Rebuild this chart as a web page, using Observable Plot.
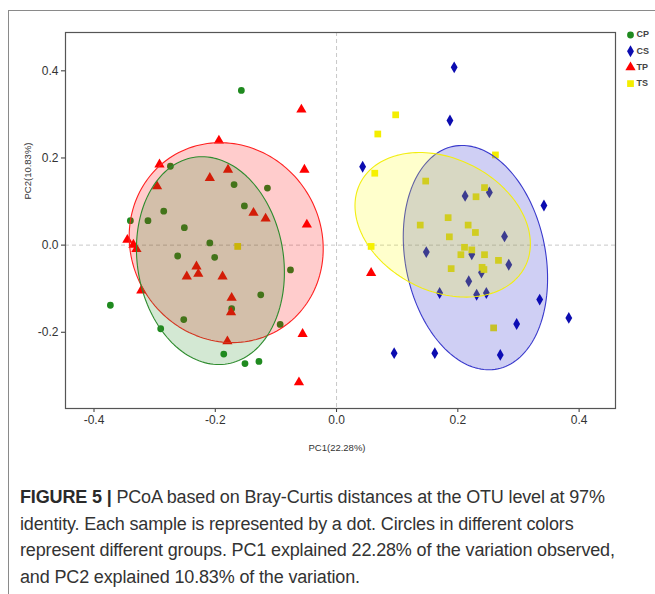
<!DOCTYPE html>
<html>
<head>
<meta charset="utf-8">
<script src="https://cdn.jsdelivr.net/npm/d3@7"></script>
<script src="https://cdn.jsdelivr.net/npm/@observablehq/plot@0.6"></script>
<style>
  html, body { margin: 0; padding: 0; background: #fff; width: 655px; height: 594px; overflow: hidden; }
  #frame { position: absolute; left: 8px; top: 10px; width: 700px; height: 700px;
           border-left: 1.5px solid #8a8a8a; border-top: 1.5px solid #8a8a8a; }
  #chart { position: absolute; left: 0; top: 0; }
  #caption { position: absolute; left: 20px; top: 484px; font-family: "Liberation Sans", Arial, sans-serif;
             font-size: 18px; letter-spacing: -0.15px; line-height: 26.5px; color: #333; white-space: nowrap; }
  #caption b { font-weight: bold; color: #2a2a2a; }
</style>
</head>
<body>
<div id="frame"></div>
<div id="chart"></div>
<div id="caption">
  <div><b>FIGURE 5 |</b> PCoA based on Bray-Curtis distances at the OTU level at 97%</div>
  <div>identity. Each sample is represented by a dot. Circles in different colors</div>
  <div>represent different groups. PC1 explained 22.28% of the variation observed,</div>
  <div>and PC2 explained 10.83% of the variation.</div>
</div>
<script>
// ---- data ----
const groups = ["CP", "CS", "TP", "TS"];

const cpX = [-0.157, -0.274, -0.169, -0.114, -0.152, -0.285, -0.340, -0.311, -0.251, -0.209, -0.262, -0.201, -0.076, -0.373, -0.125, -0.173, -0.252, -0.093, -0.290, -0.186, -0.151, -0.128];
const cpY = [0.355, 0.181, 0.139, 0.131, 0.090, 0.078, 0.056, 0.056, 0.040, 0.005, -0.025, -0.028, -0.057, -0.138, -0.114, -0.146, -0.171, -0.182, -0.192, -0.250, -0.272, -0.267];

const csX = [0.194, 0.187, 0.043, 0.212, 0.252, 0.342, 0.277, 0.148, 0.223, 0.284, 0.239, 0.218, 0.170, 0.231, 0.247, 0.335, 0.383, 0.297, 0.095, 0.162, 0.270];
const csY = [0.408, 0.286, 0.180, 0.113, 0.121, 0.091, 0.020, -0.016, -0.021, -0.045, -0.063, -0.083, -0.110, -0.114, -0.110, -0.125, -0.167, -0.181, -0.248, -0.248, -0.252];

const tpX = [-0.058, -0.194, -0.292, -0.179, -0.053, -0.209, -0.296, -0.137, -0.117, -0.049, -0.345, -0.335, -0.330, -0.231, -0.228, -0.247, -0.188, -0.322, -0.173, -0.174, -0.056, -0.180, -0.062, 0.057];
const tpY = [0.311, 0.240, 0.185, 0.173, 0.173, 0.154, 0.135, 0.074, 0.061, 0.047, 0.012, 0.001, -0.009, -0.049, -0.066, -0.072, -0.072, -0.104, -0.121, -0.154, -0.204, -0.221, -0.315, -0.064];

const tsX = [0.0975, 0.068, 0.262, 0.063, 0.147, 0.244, 0.230, 0.184, 0.138, 0.217, 0.229, 0.186, 0.057, 0.211, 0.223, 0.205, 0.244, 0.267, 0.189, 0.240, 0.243, 0.259, -0.163];
const tsY = [0.299, 0.255, 0.207, 0.165, 0.147, 0.132, 0.111, 0.063, 0.046, 0.046, 0.029, 0.019, -0.003, -0.005, -0.011, -0.022, -0.022, -0.035, -0.054, -0.051, -0.056, -0.190, -0.003];

// confidence ellipses: x = cx + a*cos t ; y = cy + b*cos t + c*sin t
const ellGroup = ["TP", "CP", "CS", "TS"];
const ellCx = [-0.182, -0.208, 0.229, 0.175];
const ellCy = [0.0057, -0.0356, -0.0287, 0.0466];
const ellA  = [0.160, 0.122, 0.119, 0.1446];
const ellB  = [-0.0142, -0.027, -0.0477, -0.0438];
const ellC  = [0.229, 0.237, 0.253, 0.160];

const xTicks = [-0.4, -0.2, 0, 0.2, 0.4];
const yTicks = [-0.2, 0, 0.2, 0.4];
const xTitle = "PC1(22.28%)";
const yTitle = "PC2(10.83%)";

// ---- styling ----
const color = {CP: "#1f8a1f", CS: "#0c0cb0", TP: "#ff0000", TS: "#f4ee00"};
const ellStroke = {CP: "#2e8b2e", CS: "#3a3acc", TP: "#ff2020", TS: "#f2ee10"};
const ellFill = {CP: "#228b22", CS: "#1010c8", TP: "#ff0000", TS: "#ffff00"};
const symbol = {CP: "circle", CS: "diamond", TP: "triangle", TS: "square"};
const radius = {CP: 3.4, CS: 3.6, TP: 3.8, TS: 3.8};

const pts = {
  CP: cpX.map((x, i) => ({x, y: cpY[i]})),
  CS: csX.map((x, i) => ({x, y: csY[i]})),
  TP: tpX.map((x, i) => ({x, y: tpY[i]})),
  TS: tsX.map((x, i) => ({x, y: tsY[i]}))
};

function ellipsePath(k) {
  const n = 160, out = [];
  for (let i = 0; i <= n; i++) {
    const t = 2 * Math.PI * i / n;
    out.push({x: ellCx[k] + ellA[k] * Math.cos(t), y: ellCy[k] + ellB[k] * Math.cos(t) + ellC[k] * Math.sin(t)});
  }
  return out;
}

const marks = [
  Plot.ruleX([0], {stroke: "#c8c8c8", strokeDasharray: "4,3", strokeWidth: 1}),
  Plot.ruleY([0], {stroke: "#c8c8c8", strokeDasharray: "4,3", strokeWidth: 1}),
];
// points below the translucent ellipses
for (const g of ["CP", "TP", "CS", "TS"]) {
  marks.push(Plot.dot(pts[g], {x: "x", y: "y", symbol: () => symbol[g], fill: color[g], r: radius[g], stroke: "none"}));
}
for (let k = 0; k < ellGroup.length; k++) {
  const g = ellGroup[k];
  marks.push(Plot.line(ellipsePath(k), {x: "x", y: "y", stroke: ellStroke[g], strokeWidth: 1.1,
    fill: ellFill[g], fillOpacity: 0.2, curve: "linear"}));
}
marks.push(Plot.frame({stroke: "#555", strokeWidth: 1.2}));

const svg = Plot.plot({
  width: 655,
  height: 470,
  marginLeft: 65,
  marginRight: 40,
  marginTop: 32,
  marginBottom: 62,
  style: {fontFamily: "'Liberation Sans', Arial, sans-serif", fontSize: "12px", color: "#333", background: "transparent", overflow: "visible"},
  symbol: {type: "identity"},
  x: {domain: [-0.447, 0.460], ticks: xTicks.length, tickFormat: d => d.toFixed(1), tickSize: 4, tickPadding: 3, label: null},
  y: {domain: [-0.375, 0.488], ticks: 5, tickFormat: d => d.toFixed(1), tickSize: 4, tickPadding: 3, label: null},
  marks
});

const s = d3.select(svg);
s.append("text").attr("x", 337).attr("y", 448).attr("text-anchor", "middle").attr("dominant-baseline", "middle")
  .attr("font-size", 9.5).attr("fill", "#333").text(xTitle);
s.append("text").attr("transform", "translate(28,171) rotate(-90)").attr("text-anchor", "middle")
  .attr("dominant-baseline", "middle").attr("font-size", 9.5).attr("fill", "#333").text(yTitle);

// legend
const legSym = {CP: d3.symbolCircle, CS: d3.symbolDiamond, TP: d3.symbolTriangle, TS: d3.symbolSquare};
groups.forEach((g, i) => {
  const y = 35 + i * 16.2;
  const r = radius[g];
  s.append("path").attr("transform", `translate(630.5,${y})`)
    .attr("d", d3.symbol(legSym[g], Math.PI * r * r)()).attr("fill", color[g]);
  s.append("text").attr("x", 636.5).attr("y", y).attr("text-anchor", "start").attr("dominant-baseline", "middle")
    .attr("font-size", 9).attr("font-weight", "bold").attr("fill", "#444").text(g);
});

document.getElementById("chart").appendChild(svg);
</script>
</body>
</html>
